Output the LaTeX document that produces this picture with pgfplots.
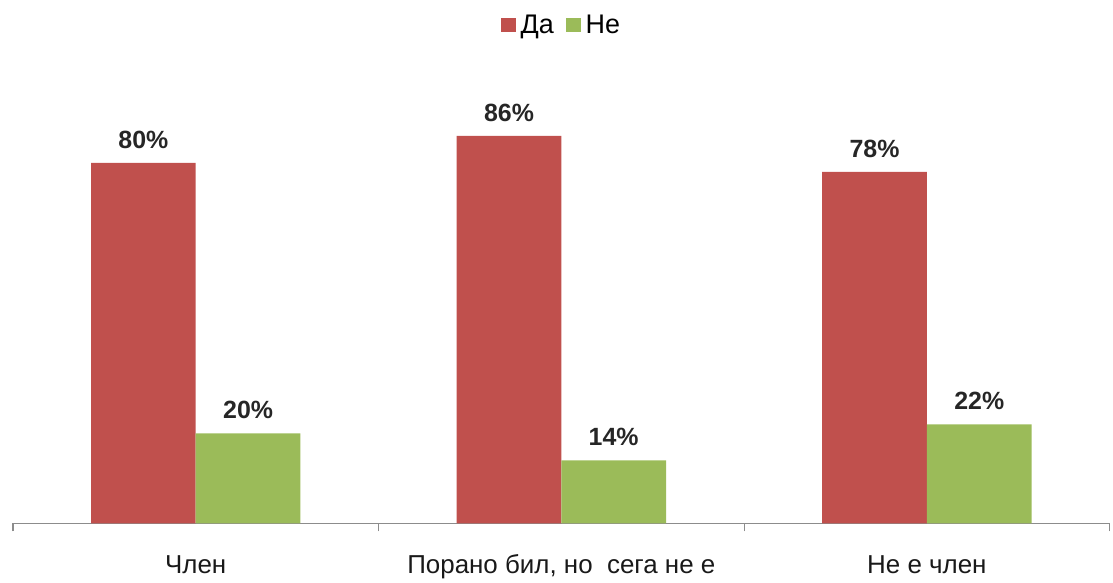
\documentclass[border=0pt]{standalone}
\usepackage{pgfplots}
\pgfplotsset{compat=1.18}
\usepackage{fontspec}
\setmainfont{Liberation Sans}
\definecolor{cda}{RGB}{192,80,77}
\definecolor{cne}{RGB}{155,187,89}
\definecolor{axgray}{RGB}{140,140,140}
\begin{document}
\begin{tikzpicture}
\begin{axis}[
    scale only axis,
    width=1100pt, height=452pt,
    ybar=0pt, bar width=105pt,
    xmin=-0.5, xmax=2.5, ymin=0, ymax=100,
    axis x line*=bottom, axis y line=none,
    x axis line style={axgray, line width=1.2pt},
    /pgf/number format/assume math mode=true,
    xtick={-0.5,0.5,1.5,2.5},
    xticklabels={},
    tick align=outside,
    major tick length=8pt,
    x tick style={axgray, line width=1.2pt},
    extra x ticks={0,1,2},
    extra x tick labels={Член, {Порано бил, но\ \ сега не е}, Не е член},
    extra x tick style={major tick length=0pt,
        xticklabel style={font=\fontsize{26}{30}\selectfont, black!90,
            anchor=base, yshift=-50pt}},
    nodes near coords={\pgfmathprintnumber{\pgfplotspointmeta}\%},
    every node near coord/.append style={font=\bfseries\fontsize{25}{28}\selectfont, black!85, yshift=11pt},
    legend style={at={(0.5,1.106)}, anchor=center, draw=none,
        legend columns=-1, font=\fontsize{27}{30}\selectfont,
        /tikz/every even column/.append style={column sep=10pt}},
    legend image code/.code={\fill[#1] (0pt,-7pt) rectangle (15pt,7pt);},
]
\addplot[fill=cda, draw=none] coordinates {(0,80) (1,86) (2,78)};
\addplot[fill=cne, draw=none] coordinates {(0,20) (1,14) (2,22)};
\legend{\hspace{3pt}Да, \hspace{3pt}Не}
\end{axis}
\path (current axis.south west) ++(-13pt,-53pt) rectangle ++(1113pt,578pt);
\end{tikzpicture}
\end{document}
